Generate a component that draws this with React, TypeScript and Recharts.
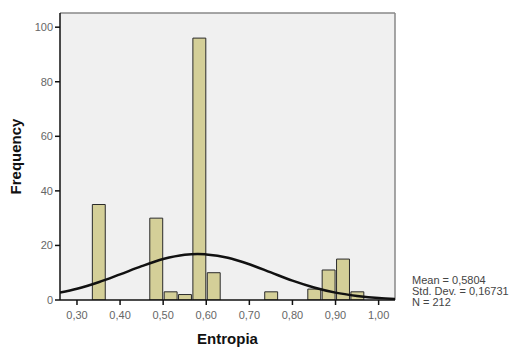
import React from 'react';
import {
  ComposedChart,
  Bar,
  Line,
  XAxis,
  YAxis,
  CartesianGrid,
  ReferenceLine,
} from 'recharts';

// histogram bins of Entropia (bin centres, width 1/30)
const binCenters = [0.35, 0.4833, 0.5167, 0.55, 0.5833, 0.6167, 0.75, 0.85, 0.8833, 0.9167, 0.95];
const binCounts = [35, 30, 3, 2, 96, 10, 3, 4, 11, 15, 3];
const BIN_WIDTH = 0.0333;

// normal curve
const curveX = [0.2606, 0.3, 0.35, 0.4, 0.45, 0.5, 0.55, 0.58, 0.6, 0.65, 0.7, 0.75, 0.8, 0.85, 0.9, 0.95, 1.0, 1.038];
const curveY = [2.7, 4.1, 6.5, 9.4, 12.4, 15.0, 16.6, 16.9, 16.7, 15.5, 13.1, 10.1, 7.1, 4.6, 2.7, 1.5, 0.7, 0.4];

const xTicks = [0.3, 0.4, 0.5, 0.6, 0.7, 0.8, 0.9, 1.0];
const yTicks = [0, 20, 40, 60, 80, 100];
const statsLines = ['Mean = 0,5804', 'Std. Dev. = 0,16731', 'N = 212'];

const X_MIN = 0.2606;
const X_MAX = 1.038;
const Y_MAX = 105.2;

const WIDTH = 509;
const HEIGHT = 347;
const margin = { top: 13, right: 114, bottom: 0, left: 0 };
const Y_AXIS_W = 60;
const X_AXIS_H = 47;
const plotW = WIDTH - margin.left - margin.right - Y_AXIS_W;
const barPx = (plotW / (X_MAX - X_MIN)) * BIN_WIDTH;

const bins = binCenters.map((x, i) => ({ x, count: binCounts[i] }));
const curve = curveX.map((x, i) => ({ x, y: curveY[i] }));

const font = '"Liberation Sans", Arial, sans-serif';
const tickStyle = { fill: '#666', fontSize: 11, fontFamily: font };
const titleStyle = { fill: '#111', fontSize: 15, fontWeight: 'bold', fontFamily: font };

export default function App() {
  return (
    <div style={{ position: 'absolute', left: 0, top: 0, width: WIDTH, height: HEIGHT, background: '#fff', overflow: 'hidden' }}>
      <ComposedChart width={WIDTH} height={HEIGHT} data={bins} margin={margin}>
        <CartesianGrid horizontal={false} vertical={false} fill="#f0f0f0" />
        <XAxis
          dataKey="x"
          type="number"
          domain={[X_MIN, X_MAX]}
          ticks={xTicks}
          allowDataOverflow
          height={X_AXIS_H}
          tickSize={5}
          tickMargin={6}
          tickFormatter={(v: number) => v.toFixed(2).replace('.', ',')}
          tick={tickStyle}
          stroke="#111"
          strokeWidth={1.5}
          label={{ value: 'Entropia', position: 'insideBottom', offset: 3, style: titleStyle }}
        />
        {/* separate hidden axis so the curve points don't shrink the bar band */}
        <XAxis
          xAxisId="curve"
          dataKey="x"
          type="number"
          domain={[X_MIN, X_MAX]}
          allowDataOverflow
          hide
        />
        <YAxis
          type="number"
          domain={[0, Y_MAX]}
          ticks={yTicks}
          allowDataOverflow
          width={Y_AXIS_W}
          tickSize={5}
          tickMargin={2}
          tick={tickStyle}
          stroke="#111"
          strokeWidth={1.5}
          label={{
            value: 'Frequency',
            angle: -90,
            position: 'insideLeft',
            offset: 16,
            style: { ...titleStyle, textAnchor: 'middle' },
          }}
        />
        <ReferenceLine y={Y_MAX} stroke="#888" strokeWidth={1.5} />
        <ReferenceLine x={X_MAX} stroke="#888" strokeWidth={1.5} />
        <Bar
          dataKey="count"
          barSize={barPx}
          fill="#d4cf98"
          stroke="#2a2a2a"
          strokeWidth={1}
          isAnimationActive={false}
        />
        <Line
          xAxisId="curve"
          data={curve}
          dataKey="y"
          type="monotone"
          stroke="#111"
          strokeWidth={2.5}
          dot={false}
          activeDot={false}
          isAnimationActive={false}
        />
      </ComposedChart>
      {statsLines.map((s, i) => (
        <div
          key={s}
          style={{
            position: 'absolute',
            left: 412,
            top: 275 + i * 11,
            fontFamily: font,
            fontSize: 11,
            lineHeight: '11px',
            color: '#444',
            whiteSpace: 'nowrap',
          }}
        >
          {s}
        </div>
      ))}
    </div>
  );
}
